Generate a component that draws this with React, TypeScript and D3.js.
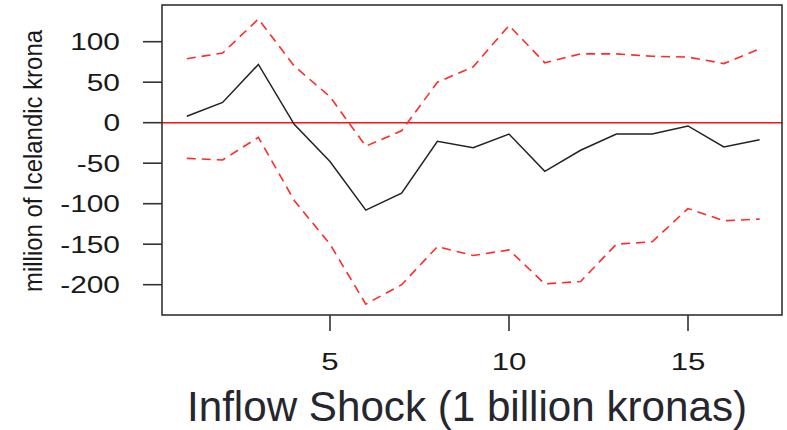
import React, { useEffect, useRef } from 'react';
import * as d3 from 'd3';

// impulse response, x = 1..17
const steps = d3.range(1, 18);
const response = [8, 25, 72, -2, -48, -108, -87, -23, -31, -14, -60, -34, -14, -14, -4, -30, -21];
const upperBand = [79, 86, 128, 70, 32, -29, -10, 50, 69, 120, 74, 85, 85, 82, 81, 73, 91];
const lowerBand = [-44, -46, -18, -96, -150, -224, -200, -153, -164, -157, -199, -196, -150, -147, -106, -121, -119];
const xTicks = [5, 10, 15];
const yTicks = [100, 50, 0, -50, -100, -150, -200];

const width = 787;
const height = 430;
const box = { left: 162, right: 782, top: 5, bottom: 315 };

export default function App() {
  const svgRef = useRef<SVGSVGElement>(null);

  useEffect(() => {
    if (!svgRef.current) return;
    const svg = d3.select(svgRef.current);
    svg.selectAll('*').remove();

    // 5 -> 330, 10 -> 509 ; 100 -> 41.7, 0 -> 122.7
    const x = d3.scaleLinear().domain([5, 10]).range([330, 509]);
    const y = d3.scaleLinear().domain([0, 100]).range([122.7, 41.7]);

    svg.append('rect')
      .attr('width', width)
      .attr('height', height)
      .attr('fill', '#fff');

    const line = d3.line<number>()
      .x((_, i) => x(steps[i]))
      .y(d => y(d));

    // zero line
    svg.append('line')
      .attr('x1', box.left)
      .attr('x2', box.right)
      .attr('y1', y(0))
      .attr('y2', y(0))
      .attr('stroke', '#ff1010')
      .attr('stroke-width', 1.6);

    [upperBand, lowerBand].forEach(band => {
      svg.append('path')
        .attr('d', line(band))
        .attr('fill', 'none')
        .attr('stroke', '#ff2a2a')
        .attr('stroke-width', 1.6)
        .attr('stroke-dasharray', '9,6');
    });

    svg.append('path')
      .attr('d', line(response))
      .attr('fill', 'none')
      .attr('stroke', '#222')
      .attr('stroke-width', 1.5);

    // frame
    svg.append('rect')
      .attr('x', box.left)
      .attr('y', box.top)
      .attr('width', box.right - box.left)
      .attr('height', box.bottom - box.top)
      .attr('fill', 'none')
      .attr('stroke', '#333')
      .attr('stroke-width', 1.6);

    const font = 'Arial, "Liberation Sans", sans-serif';

    // y axis
    const yAxis = svg.append('g');
    yTicks.forEach(t => {
      yAxis.append('line')
        .attr('x1', 143)
        .attr('x2', box.left)
        .attr('y1', y(t))
        .attr('y2', y(t))
        .attr('stroke', '#333')
        .attr('stroke-width', 1.6);
      yAxis.append('text')
        .attr('transform', `translate(120,${y(t) + 8.5}) scale(1.3,1)`)
        .attr('text-anchor', 'end')
        .attr('font-family', font)
        .attr('font-size', 23)
        .attr('fill', '#1a1a1a')
        .text(t);
    });

    // x axis
    const xAxis = svg.append('g');
    xTicks.forEach(t => {
      xAxis.append('line')
        .attr('x1', x(t))
        .attr('x2', x(t))
        .attr('y1', box.bottom)
        .attr('y2', 331)
        .attr('stroke', '#333')
        .attr('stroke-width', 1.6);
      xAxis.append('text')
        .attr('transform', `translate(${x(t)},370) scale(1.3,1)`)
        .attr('text-anchor', 'middle')
        .attr('font-family', font)
        .attr('font-size', 24)
        .attr('fill', '#1a1a1a')
        .text(t);
    });

    svg.append('text')
      .attr('x', 187)
      .attr('y', 421)
      .attr('textLength', 560)
      .attr('lengthAdjust', 'spacingAndGlyphs')
      .attr('font-family', font)
      .attr('font-size', 42)
      .attr('fill', '#26262e')
      .text('Inflow Shock (1 billion kronas)');

    svg.append('text')
      .attr('transform', 'translate(42,161) rotate(-90)')
      .attr('text-anchor', 'middle')
      .attr('textLength', 262)
      .attr('lengthAdjust', 'spacingAndGlyphs')
      .attr('font-family', font)
      .attr('font-size', 26)
      .attr('fill', '#1a1a1a')
      .text('million of Icelandic krona');
  }, []);

  return (
    <svg
      ref={svgRef}
      width={width}
      height={height}
      style={{ position: 'absolute', left: 0, top: 0, display: 'block' }}
    />
  );
}
